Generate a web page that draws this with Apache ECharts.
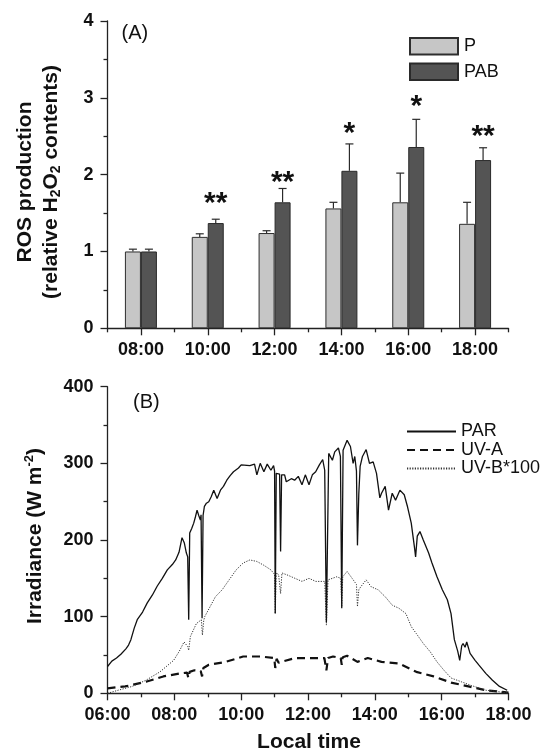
<!DOCTYPE html>
<html>
<head>
<meta charset="utf-8">
<script src="https://cdn.jsdelivr.net/npm/echarts@6/dist/echarts.min.js"></script>
<style>
  html, body { margin: 0; padding: 0; background: #fff; }
  #chart { width: 544px; height: 751px; }
</style>
</head>
<body>
<div id="chart"></div>
<script>
// (A) ROS production under P and PAB treatments
const categories = ['08:00', '10:00', '12:00', '14:00', '16:00', '18:00'];
const pMean   = [1.00, 1.19, 1.24, 1.56, 1.64, 1.36];
const pSd     = [0.03, 0.04, 0.03, 0.08, 0.38, 0.28];
const pabMean = [1.00, 1.37, 1.64, 2.05, 2.36, 2.19];
const pabSd   = [0.03, 0.05, 0.18, 0.35, 0.36, 0.16];
const sigMarks = ['', '**', '**', '*', '*', '**'];
const sigLevel = [null, 1.71, 1.99, 2.63, 2.97, 2.58];
const rosTicks = [0, 1, 2, 3, 4];

// (B) Irradiance through the day: [local time (h), W m-2]
const parData = [
  [6.00,35],[6.13,42],[6.27,46],[6.40,51],[6.55,58],[6.63,63],[6.70,70],[6.80,85],[6.89,96],
  [7.05,106],[7.19,118],[7.34,128],[7.49,140],[7.64,150],[7.79,161],[7.94,168],[8.04,174],
  [8.14,184],[8.23,203],[8.30,196],[8.36,183],[8.40,178],[8.43,96],[8.46,209],[8.52,215],
  [8.58,222],[8.63,230],[8.68,239],[8.73,232],[8.78,226],[8.80,233],[8.83,98],[8.86,232],
  [8.90,244],[8.96,248],[9.03,250],[9.10,256],[9.18,265],[9.28,254],[9.38,265],[9.47,270],
  [9.57,278],[9.67,284],[9.77,289],[9.92,294],[10.00,298],[10.26,297],[10.40,299],[10.47,285],
  [10.57,300],[10.68,289],[10.78,299],[10.89,291],[10.97,297],[11.00,290],[11.02,104],[11.05,287],
  [11.10,287],[11.15,286],[11.18,185],[11.21,285],[11.30,285],[11.35,276],[11.50,280],[11.60,278],
  [11.71,283],[11.82,272],[11.92,285],[12.03,272],[12.13,285],[12.23,289],[12.34,298],[12.44,305],
  [12.50,291],[12.55,93],[12.62,313],[12.73,304],[12.80,315],[12.91,320],[12.97,309],[13.01,111],
  [13.05,317],[13.17,330],[13.27,322],[13.35,300],[13.40,309],[13.45,290],[13.48,193],[13.52,260],
  [13.56,296],[13.63,309],[13.74,318],[13.84,300],[13.95,302],[14.05,287],[14.15,255],[14.20,261],
  [14.31,270],[14.41,239],[14.52,261],[14.62,252],[14.75,265],[14.88,259],[14.98,243],[15.09,222],
  [15.19,189],[15.22,178],[15.27,205],[15.35,211],[15.45,200],[15.61,183],[15.71,170],[15.86,152],
  [16.02,135],[16.17,122],[16.28,104],[16.38,70],[16.48,55],[16.54,43],[16.60,62],[16.64,65],
  [16.70,60],[16.75,67],[16.85,52],[17.00,43],[17.11,37],[17.32,26],[17.52,17],[17.73,9],[17.96,4]
];
const uvaData = [
  [6.00,6.5],[6.53,9],[7.15,15],[7.67,22],[8.19,26],[8.38,27],[8.42,20],[8.46,28],[8.60,30],
  [8.79,29],[8.83,22],[8.87,33],[9.02,37],[9.54,41],[10.06,48],[10.57,48],[10.99,46],[11.02,33],
  [11.06,45],[11.12,40],[11.20,41],[11.61,46],[12.13,46],[12.49,46],[12.55,30],[12.60,46],
  [12.75,48],[12.98,46],[13.01,37],[13.04,47],[13.17,49],[13.48,41],[13.79,46],[14.20,41],
  [14.72,39],[15.24,28],[15.76,22],[16.28,14],[16.80,9],[17.32,4],[18.00,1]
];
const uvbData = [
  [6.00,0],[6.32,4],[6.74,9],[7.15,17],[7.57,28],[7.98,43],[8.15,55],[8.29,67],[8.40,61],
  [8.43,56],[8.48,74],[8.66,91],[8.81,96],[8.84,76],[8.88,95],[8.91,100],[9.07,113],[9.23,126],
  [9.43,135],[9.64,148],[9.85,161],[10.06,170],[10.26,174],[10.47,172],[10.68,167],[10.89,161],
  [11.00,155],[11.02,104],[11.05,157],[11.12,155],[11.18,130],[11.22,157],[11.40,154],[11.61,150],
  [11.82,146],[12.03,150],[12.23,146],[12.44,146],[12.50,146],[12.55,89],[12.60,148],[12.86,152],
  [12.98,150],[13.01,113],[13.04,152],[13.17,159],[13.32,150],[13.45,142],[13.48,113],[13.52,135],
  [13.58,139],[13.74,148],[13.89,139],[14.10,135],[14.31,126],[14.52,115],[14.72,111],[14.93,104],
  [15.09,87],[15.24,78],[15.45,65],[15.66,54],[15.86,41],[16.07,30],[16.28,20],[16.59,15],
  [16.90,10],[17.32,4],[17.73,2],[18.00,0]
];
const irrTicks = [0, 100, 200, 300, 400];
const hourTicks = [6, 8, 10, 12, 14, 16, 18];

const FONT = 'Liberation Sans, Arial, sans-serif';
const INK = '#111';
const AXIS = '#222';
const BAR_W = 16;

const chart = echarts.init(document.getElementById('chart'), null, { renderer: 'canvas' });

function hourLabel(v) {
  return (v < 10 ? '0' : '') + v + ':00';
}

// upper error bar with a short cap, shifted onto its bar in the group
function errorBar(offset) {
  return function (params, api) {
    const i = api.value(0), m = api.value(1), sd = api.value(2);
    const base = api.coord([i, m]);
    const top = api.coord([i, m + sd]);
    const x = base[0] + offset;
    const st = { stroke: '#2a2a2a', lineWidth: 1.2 };
    return {
      type: 'group',
      children: [
        { type: 'line', shape: { x1: x, y1: base[1], x2: x, y2: top[1] }, style: st },
        { type: 'line', shape: { x1: x - 4, y1: top[1], x2: x + 4, y2: top[1] }, style: st }
      ]
    };
  };
}

function sigRender(params, api) {
  const i = params.dataIndex;
  const lvl = sigLevel[i];
  if (lvl == null) return null;
  const p = api.coord([i, lvl]);
  return {
    type: 'text',
    x: p[0] + BAR_W / 2,
    y: p[1] + 7,
    style: {
      text: sigMarks[i],
      font: 'bold 30px ' + FONT,
      fill: INK,
      align: 'center',
      verticalAlign: 'middle'
    }
  };
}

const axisLine = { show: true, lineStyle: { color: AXIS, width: 1.3 } };
const tickLabel = { color: INK, fontFamily: FONT, fontWeight: 'bold', fontSize: 18 };

const option = {
  animation: false,
  backgroundColor: '#fff',
  grid: [
    { left: 107.5, top: 21, width: 401, height: 307.3, containLabel: false, outerBoundsMode: 'none' },
    { left: 107.5, top: 386.7, width: 401, height: 306.6, containLabel: false, outerBoundsMode: 'none' }
  ],
  legend: [
    {
      data: ['P', 'PAB'],
      orient: 'vertical',
      left: 409, top: 37,
      itemWidth: 48, itemHeight: 16.5, itemGap: 7,
      icon: 'rect',
      padding: 0,
      textStyle: { color: INK, fontFamily: FONT, fontSize: 18, lineHeight: 16, padding: [0, 0, 0, 1] }
    },
    {
      data: ['PAR', 'UV-A', 'UV-B*100'],
      orient: 'vertical',
      left: 406, top: 422.5,
      itemWidth: 49, itemHeight: 13, itemGap: 0.5,
      padding: 0,
      itemStyle: { opacity: 0, borderWidth: 0 },
      textStyle: { color: INK, fontFamily: FONT, fontSize: 18, lineHeight: 13 }
    }
  ],
  xAxis: [
    {
      type: 'category', gridIndex: 0, data: categories, position: 'bottom',
      axisLine: axisLine,
      axisTick: { show: true, alignWithLabel: true, length: 7, lineStyle: { color: AXIS, width: 1.3 } },
      axisLabel: Object.assign({ margin: 13, interval: 0 }, tickLabel),
      splitLine: { show: false }
    },
    {
      type: 'value', gridIndex: 0, min: 0, max: 6, interval: 1, position: 'bottom',
      axisLine: { show: false },
      axisTick: { show: true, length: 4, lineStyle: { color: AXIS, width: 1.3 } },
      axisLabel: { show: false },
      splitLine: { show: false }
    },
    {
      type: 'value', gridIndex: 1, min: 6, max: 18, interval: 2, position: 'bottom',
      axisLine: axisLine,
      axisTick: { show: true, length: 7, lineStyle: { color: AXIS, width: 1.3 } },
      minorTick: { show: true, splitNumber: 2, length: 4, lineStyle: { color: AXIS, width: 1.3 } },
      axisLabel: Object.assign({ margin: 13, formatter: hourLabel, customValues: hourTicks }, tickLabel),
      splitLine: { show: false },
      minorSplitLine: { show: false }
    }
  ],
  yAxis: [
    {
      type: 'value', gridIndex: 0, min: rosTicks[0], max: rosTicks[rosTicks.length - 1], interval: 1,
      axisLine: axisLine,
      axisTick: { show: true, length: 7, lineStyle: { color: AXIS, width: 1.3 } },
      minorTick: { show: true, splitNumber: 2, length: 4, lineStyle: { color: AXIS, width: 1.3 } },
      axisLabel: Object.assign({ margin: 14 }, tickLabel),
      splitLine: { show: false },
      minorSplitLine: { show: false }
    },
    {
      type: 'value', gridIndex: 1, min: irrTicks[0], max: irrTicks[irrTicks.length - 1], interval: 100,
      axisLine: axisLine,
      axisTick: { show: true, length: 7, lineStyle: { color: AXIS, width: 1.3 } },
      minorTick: { show: true, splitNumber: 2, length: 4, lineStyle: { color: AXIS, width: 1.3 } },
      axisLabel: Object.assign({ margin: 14 }, tickLabel),
      splitLine: { show: false },
      minorSplitLine: { show: false }
    }
  ],
  series: [
    {
      name: 'P', type: 'bar', xAxisIndex: 0, yAxisIndex: 0,
      data: pMean, barWidth: BAR_W, barGap: '0%',
      itemStyle: { color: '#c6c6c6', borderColor: '#2e2e2e', borderWidth: 1 }
    },
    {
      name: 'PAB', type: 'bar', xAxisIndex: 0, yAxisIndex: 0,
      data: pabMean, barWidth: BAR_W, barGap: '0%',
      itemStyle: { color: '#545454', borderColor: '#2a2a2a', borderWidth: 1 }
    },
    {
      type: 'custom', xAxisIndex: 0, yAxisIndex: 0, z: 3,
      renderItem: errorBar(-BAR_W / 2),
      data: pMean.map((m, i) => [i, m, pSd[i]])
    },
    {
      type: 'custom', xAxisIndex: 0, yAxisIndex: 0, z: 3,
      renderItem: errorBar(BAR_W / 2),
      data: pabMean.map((m, i) => [i, m, pabSd[i]])
    },
    {
      type: 'custom', xAxisIndex: 0, yAxisIndex: 0, z: 4,
      renderItem: sigRender,
      data: sigLevel.map((v, i) => [i, v == null ? 0 : v])
    },
    {
      name: 'PAR', type: 'line', xAxisIndex: 2, yAxisIndex: 1,
      data: parData, symbol: 'none', z: 3,
      itemStyle: { color: '#111' },
      lineStyle: { color: '#111', width: 1.3, type: 'solid' }
    },
    {
      name: 'UV-A', type: 'line', xAxisIndex: 2, yAxisIndex: 1,
      data: uvaData, symbol: 'none', z: 2,
      itemStyle: { color: '#111' },
      lineStyle: { color: '#111', width: 2.2, type: [8, 5] }
    },
    {
      name: 'UV-B*100', type: 'line', xAxisIndex: 2, yAxisIndex: 1,
      data: uvbData, symbol: 'none', z: 2,
      itemStyle: { color: '#333' },
      lineStyle: { color: '#333', width: 1, type: [1.2, 1.4] }
    }
  ],
  graphic: [
    {
      type: 'text', x: 121.5, y: 33,
      style: { text: '(A)', font: '20px ' + FONT, fill: INK, align: 'left', verticalAlign: 'middle' }
    },
    {
      type: 'text', x: 133, y: 402,
      style: { text: '(B)', font: '20px ' + FONT, fill: INK, align: 'left', verticalAlign: 'middle' }
    },
    {
      type: 'text', x: 25, y: 182, rotation: Math.PI / 2,
      style: { text: 'ROS production', font: 'bold 21px ' + FONT, fill: INK, align: 'center', verticalAlign: 'middle' }
    },
    {
      type: 'text', x: 51, y: 182, rotation: Math.PI / 2,
      style: {
        text: '{m|(relative H}{s|2}{m|O}{s|2}{m| contents)}',
        fill: INK, align: 'center', verticalAlign: 'middle',
        rich: {
          m: { fontFamily: FONT, fontWeight: 'bold', fontSize: 21, lineHeight: 24, fill: INK },
          s: { fontFamily: FONT, fontWeight: 'bold', fontSize: 14, lineHeight: 10, verticalAlign: 'bottom', fill: INK }
        }
      }
    },
    {
      type: 'text', x: 35, y: 536, rotation: Math.PI / 2,
      style: {
        text: '{m|Irradiance (W m}{p|-2}{m|)}',
        fill: INK, align: 'center', verticalAlign: 'middle',
        rich: {
          m: { fontFamily: FONT, fontWeight: 'bold', fontSize: 21, lineHeight: 24, fill: INK },
          p: { fontFamily: FONT, fontWeight: 'bold', fontSize: 13, lineHeight: 10, verticalAlign: 'top', fill: INK }
        }
      }
    },
    {
      type: 'text', x: 309, y: 742,
      style: { text: 'Local time', font: 'bold 21px ' + FONT, fill: INK, align: 'center', verticalAlign: 'middle' }
    }
  ]
};

chart.setOption(option);
</script>
</body>
</html>
